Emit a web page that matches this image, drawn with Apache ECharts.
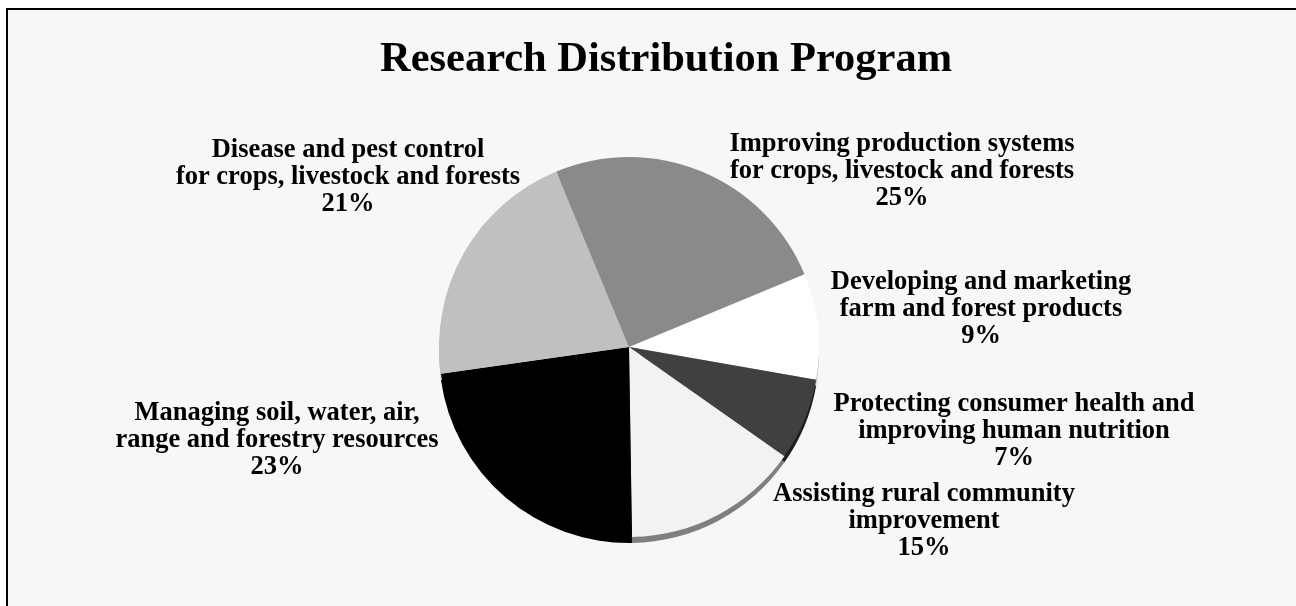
<!DOCTYPE html>
<html>
<head>
<meta charset="utf-8">
<script src="https://cdn.jsdelivr.net/npm/echarts@6/dist/echarts.min.js"></script>
<style>
html,body{margin:0;padding:0;background:#fff;}
#chart{width:1296px;height:606px;}
</style>
</head>
<body>
<div id="chart"></div>
<script>
// ---- data ----
const titleText = 'Research Distribution Program';
const categories = [
  'Improving production systems\nfor crops, livestock and forests',
  'Developing and marketing\nfarm and forest products',
  'Protecting consumer health and\nimproving human nutrition',
  'Assisting rural community\nimprovement',
  'Managing soil, water, air,\nrange and forestry resources',
  'Disease and pest control\nfor crops, livestock and forests'
];
const shares = [25, 9, 7, 15, 23, 21];

// ---- styles ----
const faceColors = ['#8a8a8a', '#ffffff', '#404040', '#f2f2f2', '#000000', '#c0c0c0'];
const wallColors = ['#8a8a8a', '#bdbdbd', '#1e1e1e', '#7f7f7f', '#000000', '#c0c0c0'];
const labelPos = [[902, 171], [981, 309], [1014, 431], [924, 521], [277, 440], [348, 177]];
const FONT = "'Liberation Serif', 'Times New Roman', serif";

const chart = echarts.init(document.getElementById('chart'), null, {renderer: 'canvas'});

const faceData = categories.map((c, i) => ({name: c, value: shares[i], itemStyle: {color: faceColors[i]}}));
const wallData = categories.map((c, i) => ({name: c, value: shares[i], itemStyle: {color: wallColors[i]}}));

chart.setOption({
  backgroundColor: '#ffffff',
  animation: false,
  graphic: [{
    type: 'rect', z: -10, silent: true,
    shape: {x: 7, y: 9, width: 1400, height: 700},
    style: {fill: '#f7f7f7', stroke: '#000000', lineWidth: 2}
  }],
  title: {
    text: titleText,
    left: 666, top: 39, padding: 0,
    textAlign: 'center',
    textStyle: {fontFamily: FONT, fontWeight: 'bold', fontSize: 42.5, color: '#000'}
  },
  series: [
    {
      type: 'pie', silent: true, z: 1,
      center: [629, 353], radius: 190,
      startAngle: 112.5, clockwise: true,
      label: {show: false}, labelLine: {show: false},
      itemStyle: {borderWidth: 0},
      data: wallData
    },
    {
      type: 'pie', silent: true, z: 2,
      center: [629, 347], radius: 190,
      startAngle: 112.5, clockwise: true,
      itemStyle: {borderWidth: 0},
      labelLine: {show: false},
      label: {
        show: true, position: 'outside',
        formatter: '{b}\n{c}%',
        fontFamily: FONT, fontWeight: 'bold', fontSize: 26.5, lineHeight: 26.7,
        color: '#000', align: 'center'
      },
      labelLayout: function (p) {
        const pos = labelPos[p.dataIndex];
        return {x: pos[0], y: pos[1], align: 'center', verticalAlign: 'middle'};
      },
      data: faceData
    }
  ]
});
</script>
</body>
</html>
